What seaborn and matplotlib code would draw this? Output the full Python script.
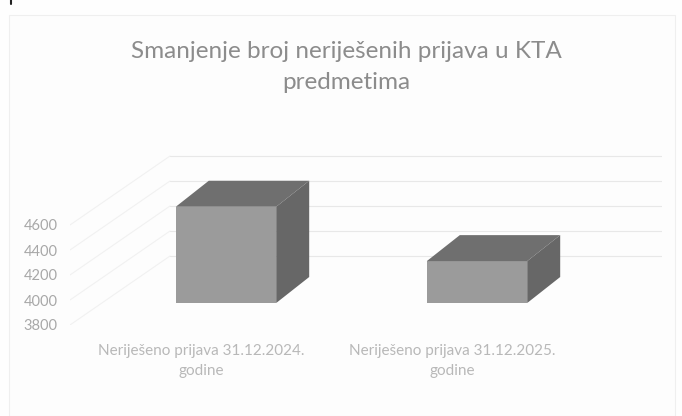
import matplotlib
matplotlib.use('Agg')
import matplotlib.pyplot as plt
from matplotlib.lines import Line2D
from matplotlib.patches import Polygon, Rectangle
import pandas as pd
import seaborn as sns

# Podaci
kategorije = ['Neriješeno prijava 31.12.2024.\ngodine', 'Neriješeno prijava 31.12.2025.\ngodine']
prijave = [4570, 4135]
y_ticks = [3800, 4000, 4200, 4400, 4600]
naslov = 'Smanjenje broj neriješenih prijava u KTA\npredmetima'

W, H = 682, 416
BAZA = 3800
PO_PX = 8  # jedinica po pikselu


def px_axes(fig, left, top, right, bottom, **kw):
    return fig.add_axes([left / W, 1 - bottom / H, (right - left) / W, (bottom - top) / H], **kw)


sns.set_theme(style='white')
plt.rcParams['font.family'] = ['Lato', 'DejaVu Sans']

fig = plt.figure(figsize=(W / 100, H / 100), dpi=100, facecolor='#fefefe')

# Okvir karte
fig.add_artist(Rectangle((9 / W, 0), (675 - 9) / W, 1 - 15 / H, transform=fig.transFigure,
                         facecolor='#fdfdfd', edgecolor='#efefef', lw=0.8, zorder=-1))
# Trag slova sa skenirane stranice uz gornji rub
fig.add_artist(Line2D([11 / W, 11 / W], [1, 1 - 4 / H], transform=fig.transFigure,
                      color='#222222', lw=1.5))

# Zid i mreža: 3800 je na y=325 px, stražnji zid je 69 px više
zid = px_axes(fig, 70, 155, 662, 325)
zid.set_xlim(0, 592)
zid.set_ylim(BAZA, BAZA + 170 * PO_PX)
zid.patch.set_alpha(0)
sns.despine(ax=zid, left=True, bottom=True)
for v in y_ticks:
    zid.plot([0, 100], [v, v + 69 * PO_PX], color='#f1f1f1', lw=0.8)
    zid.plot([100, 592], [v + 69 * PO_PX, v + 69 * PO_PX], color='#e8e8e8', lw=0.8)
zid.set_xticks([131, 382], kategorije)
zid.set_yticks(y_ticks)
zid.tick_params(axis='y', length=0, pad=9, labelsize=10.5, labelcolor='#a8a8a8')
zid.tick_params(axis='x', length=0, pad=14, labelsize=11, labelcolor='#b8b8b8')
for lab in zid.get_xticklabels():
    lab.set_linespacing(1.5)

# Stupci: 3800 je na y=303 px
ax = px_axes(fig, 70, 155, 635, 303)
ax.patch.set_alpha(0)
df = pd.DataFrame({'kategorija': kategorije, 'prijave': prijave})
sns.barplot(data=df, x='kategorija', y='prijave', color='#9b9b9b', saturation=1, width=0.4,
            edgecolor='none', linewidth=0, ax=ax)
ax.set_xlim((70 - 226) / 251, (635 - 226) / 251)
ax.set_ylim(BAZA, BAZA + 148 * PO_PX)
dx = 33 / 251
dy = 26 * PO_PX
for bar in list(ax.patches):
    x0, x1 = bar.get_x(), bar.get_x() + bar.get_width()
    y0, y1 = BAZA, bar.get_height()
    ax.add_patch(Polygon([(x0, y1), (x1, y1), (x1 + dx, y1 + dy), (x0 + dx, y1 + dy)],
                         facecolor='#6f6f6f', edgecolor='none', clip_on=False))
    ax.add_patch(Polygon([(x1, y0), (x1, y1), (x1 + dx, y1 + dy), (x1 + dx, y0 + dy)],
                         facecolor='#676767', edgecolor='none', clip_on=False))
ax.set_xlabel('')
ax.set_ylabel('')
ax.set_xticks([])
ax.set_yticks([])
sns.despine(ax=ax, left=True, bottom=True)

fig.text(346 / W, 1 - 67 / H, naslov, ha='center', va='center', fontsize=17.5,
         color='#8c8c8c', linespacing=1.6)

fig.savefig('out.png', dpi=100)
